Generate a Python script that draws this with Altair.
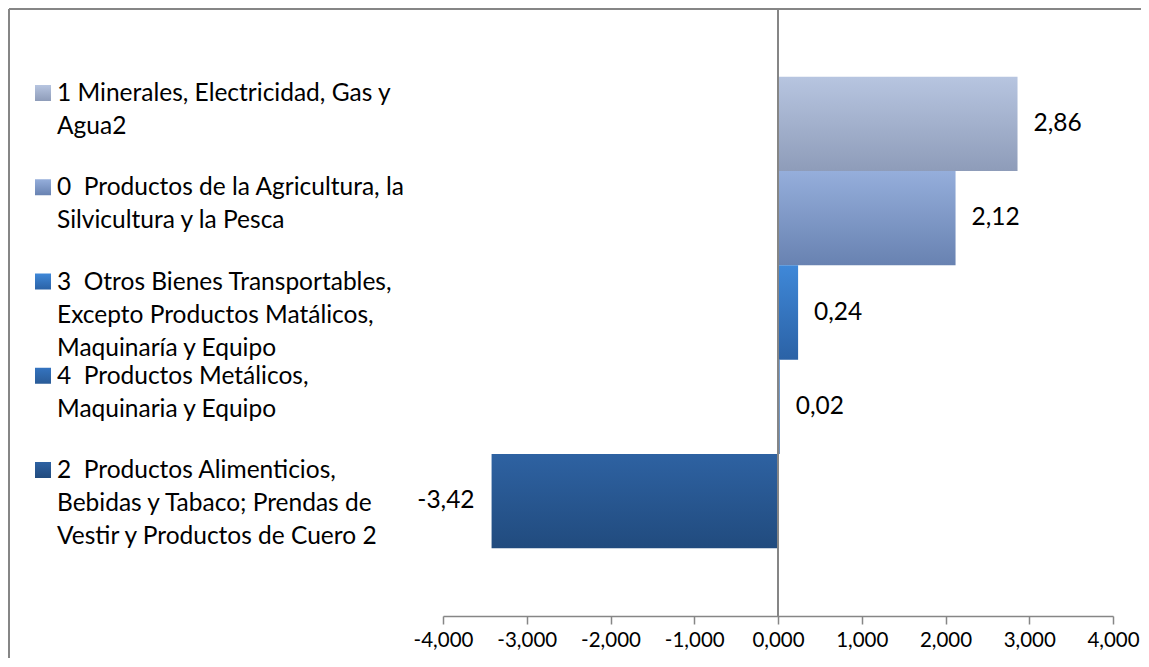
import altair as alt
import pandas as pd

categories = [
    "1 Minerales, Electricidad, Gas y\nAgua2",
    "0\u00a0 Productos de la Agricultura, la\nSilvicultura y la Pesca",
    "3\u00a0 Otros Bienes Transportables,\nExcepto Productos Matálicos,\nMaquinaría y Equipo",
    "4\u00a0 Productos Metálicos,\nMaquinaria y Equipo",
    "2\u00a0 Productos Alimenticios,\nBebidas y Tabaco; Prendas de\nVestir y Productos de Cuero 2",
]
values = [2.86, 2.12, 0.24, 0.02, -3.42]
tick_values = [-4, -3, -2, -1, 0, 1, 2, 3, 4]
top_colors = ["#B7C5E0", "#95AEDB", "#3F88D8", "#3474C0", "#2E62A2"]
bottom_colors = ["#8E9CB9", "#6882B1", "#2B62A6", "#2A5B97", "#214B7E"]

labels = [f"{v:.2f}".replace(".", ",") for v in values]
df = pd.DataFrame({"cat": categories, "value": values, "label": labels, "idx": list(range(len(values)))})

FONT = "Lato"
FS = 24.5
GRAY = "#868686"
W, H = 670, 607

xsc = alt.Scale(domain=[-4, 4], nice=False, zero=False)
ysc = alt.Scale(domain=categories, paddingInner=0, paddingOuter=0.72)

base = alt.Chart(df)
x_axis = alt.Axis(
    values=tick_values,
    labelExpr="(datum.value < 0 ? '-' : '') + abs(datum.value) + ',000'",
    grid=False, domainColor=GRAY, tickColor=GRAY, tickSize=8, domainWidth=1.5, tickWidth=1.5,
    labelFont=FONT, labelFontSize=20.5, labelColor="#000000", labelPadding=6, title=None,
    labelOverlap=False, labelFlush=False,
)

layers = []
for i in range(len(categories)):
    grad = alt.Gradient(
        gradient="linear",
        stops=[alt.GradientStop(color=top_colors[i], offset=0), alt.GradientStop(color=bottom_colors[i], offset=1)],
        x1=0, x2=0, y1=0, y2=1,
    )
    sub = base.transform_filter(alt.datum.idx == i)
    layers.append(
        sub.mark_bar(color=grad, opacity=1).encode(
            x=alt.X("value:Q", scale=xsc, axis=x_axis),
            x2=alt.datum(0),
            y=alt.Y("cat:N", scale=ysc, axis=None, sort=categories),
        )
    )
    layers.append(
        sub.mark_square(color=grad, size=256, opacity=1, filled=True, yOffset=-31).encode(
            x=alt.value(-400),
            y=alt.Y("cat:N", scale=ysc, axis=None, sort=categories),
        )
    )

legend_text = base.mark_text(
    align="left", baseline="top", lineBreak="\n", lineHeight=33, font=FONT, fontSize=FS,
    color="#000000", dy=-42,
).encode(x=alt.value(-386), y=alt.Y("cat:N", scale=ysc, axis=None, sort=categories), text="cat:N")

pos_labels = base.transform_filter(alt.datum.value >= 0).mark_text(
    align="left", baseline="middle", dx=16, font=FONT, fontSize=FS, color="#000000"
).encode(x=alt.X("value:Q", scale=xsc), y=alt.Y("cat:N", scale=ysc, axis=None, sort=categories), text="label:N")

neg_labels = base.transform_filter(alt.datum.value < 0).mark_text(
    align="right", baseline="middle", dx=-17, font=FONT, fontSize=FS, color="#000000"
).encode(x=alt.X("value:Q", scale=xsc), y=alt.Y("cat:N", scale=ysc, axis=None, sort=categories), text="label:N")

zero_line = base.mark_rule(color=GRAY, strokeWidth=1.5).encode(x=alt.X("z:Q", scale=xsc)).transform_calculate(z="0")

border_top = base.mark_rule(color=GRAY, strokeWidth=1.5).encode(
    x=alt.value(-434), x2=alt.value(710), y=alt.value(0)
)
border_left = base.mark_rule(color=GRAY, strokeWidth=1.5).encode(
    x=alt.value(-434), y=alt.value(0), y2=alt.value(660)
)

chart = alt.layer(
    *layers, legend_text, pos_labels, neg_labels, zero_line, border_top, border_left
).properties(
    width=W, height=H,
    autosize=alt.AutoSizeParams(type="none"),
    padding={"left": 435, "top": 1, "right": 28, "bottom": 42},
).configure_view(stroke=None)

chart.save("out.html", embed_options={"renderer": "svg", "actions": False})
